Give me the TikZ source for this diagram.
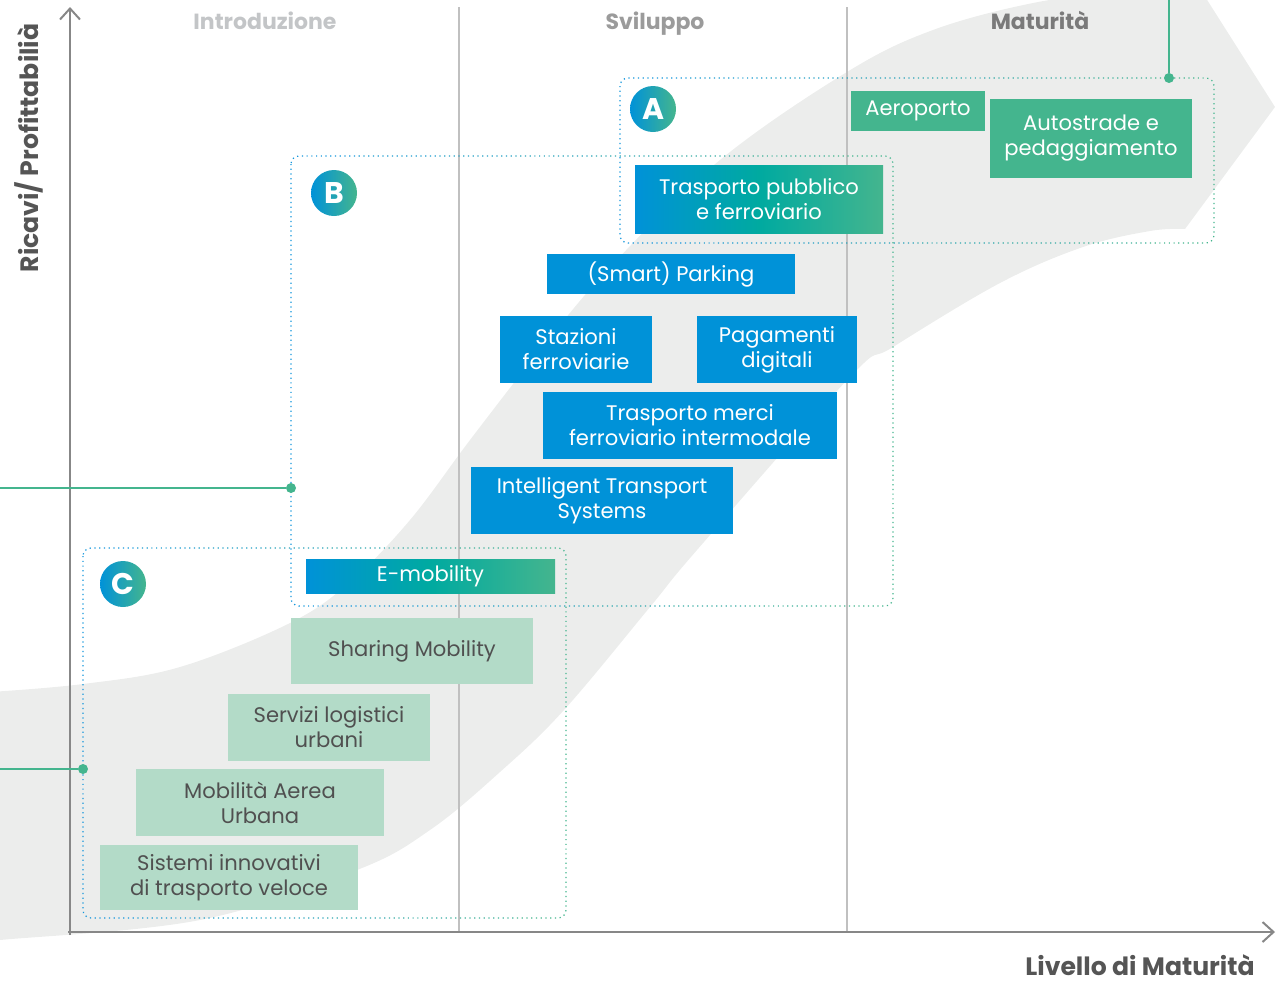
\documentclass[tikz,border=0pt]{standalone}
\usepackage{fontspec}
\setmainfont{Poppins}
\usetikzlibrary{arrows.meta, calc}

\definecolor{tileblue}{RGB}{0, 146, 216}
\definecolor{tileteal}{RGB}{0, 170, 160}
\definecolor{tilegreen}{RGB}{68, 181, 142}
\definecolor{tilemint}{RGB}{179, 219, 200}
\definecolor{bandgrey}{RGB}{236, 237, 236}
\definecolor{axisgrey}{RGB}{135, 135, 135}
\definecolor{sepgrey}{RGB}{192, 192, 192}
\definecolor{labeldark}{RGB}{85, 85, 85}
\definecolor{textdark}{RGB}{80, 80, 80}
\definecolor{dotblue}{RGB}{20, 150, 220}
\definecolor{introgrey}{RGB}{195, 197, 199}
\definecolor{svilgrey}{RGB}{155, 155, 155}
\definecolor{matgrey}{RGB}{122, 122, 122}

\tikzset{
  tile/.style={rectangle, inner sep=0pt, align=center, text=white, font=\fontsize{12}{14.2}\selectfont},
  bluetile/.style={tile, fill=tileblue},
  greentile/.style={tile, fill=tilegreen},
  fadetile/.style={tile, left color=tileblue, right color=tilegreen, middle color=tileteal},
  minttile/.style={tile, fill=tilemint, text=textdark},
  badge/.style={circle, inner sep=0pt, minimum size=9.2mm, left color=tileblue, right color=tilegreen, text=white, font=\fontsize{17}{17}\bfseries},
  phase/.style={anchor=base, font=\fontsize{12.5}{15}\bfseries},
  axislabel/.style={inner sep=0pt, font=\fontsize{14.3}{17}\bfseries, text=labeldark},
  axisline/.style={line width=0.4mm, draw=axisgrey, -{Straight Barb[length=2.2mm, width=4mm]}},
  divider/.style={line width=0.6pt, draw=sepgrey},
  zone/.style={dotted, line width=0.7pt, rounded corners=1.6mm},
  link/.style={line width=0.55mm, draw=tilegreen},
  linkdot/.style={circle, fill=tilegreen, inner sep=0pt, minimum size=2mm},
}

\begin{document}
\begin{tikzpicture}[x=0.2mm, y=-0.2mm]
  \useasboundingbox (0,0) rectangle (1285,984);

  % Grey growth band
  \begin{scope}
    \clip (0,0) rectangle (1285,984);
    \fill[bandgrey] plot[smooth, tension=0.6] coordinates {(-10,692) (83,684) (180,667) (290,623) (350,582) (410,520) (470,440) (540,350) (612,265) (720,160) (847,72) (933,30) (1033,3) (1120,-8) (1190,-12)}
      -- (1190,-27) -- (1275,107) -- (1185,229)
      -- plot[smooth, tension=0.6] coordinates {(1185,229) (1150,231) (1083,247) (1000,283) (893,347) (850,377) (697,550) (650,607) (564,710) (500,772) (430,830) (357,870) (200,920) (0,940) (-10,941)}
      -- cycle;
  \end{scope}

  % Phase dividers
  \draw[divider] (459,7) -- (459,932);
  \draw[divider] (847,7) -- (847,932);

  % Phase titles
  \node[phase, text=introgrey] (intro) at (265,29) {Introduzione};
  \node[phase, text=svilgrey] (svil) at (655,29) {Sviluppo};
  \node[phase, text=matgrey] (mat) at (1040,29) {Maturità};

  % Axes
  \coordinate (ybase) at (70,935);
  \coordinate (ytop) at (70,7);
  \coordinate (xbase) at (68,932);
  \coordinate (xtop) at (1275,932);
  \draw[axisline] (ybase) -- (ytop);
  \draw[axisline] (xbase) -- (xtop);
  \node[axislabel, rotate=90] (ylab) at (29,148) {Ricavi/ Profittabilià};
  \node[axislabel, anchor=base] (xlab) at (1140,975) {Livello di Maturità};

  % Zones, dotted with a blue-to-green fade
  \foreach \xa/\ya/\xb/\yb in {620/78/1214/243, 291/156/893/606, 83/548/566/918}{
    \foreach \k in {0,...,7}{
      \pgfmathtruncatemacro{\mix}{100-100*\k/7}
      \begin{scope}
        \clip ({\xa-10+(\xb-\xa+20)*\k/8}, \ya-10) rectangle ({\xa-10+(\xb-\xa+20)*(\k+1)/8}, \yb+10);
        \draw[zone, draw=dotblue!\mix!tilegreen] (\xa,\ya) rectangle (\xb,\yb);
      \end{scope}
    }
  }

  % Links into the zones
  \coordinate (linkA) at (1169,-5);
  \coordinate (linkB) at (-5,488);
  \coordinate (linkC) at (-5,769);
  \node[linkdot] (dotA) at (1169,78) {};
  \node[linkdot] (dotB) at (291,488) {};
  \node[linkdot] (dotC) at (83,769) {};
  \draw[link] (linkA) -- (dotA);
  \draw[link] (linkB) -- (dotB);
  \draw[link] (linkC) -- (dotC);

  % Zone badges
  \node[badge] (badgeA) at (653,109) {A};
  \node[badge] (badgeB) at (334,193) {B};
  \node[badge] (badgeC) at (123,584) {C};

  % Zone A
  \node[greentile, minimum width=26.8mm, minimum height=8mm] (aeroporto) at (918,111) {Aeroporto};
  \node[greentile, minimum width=40.4mm, minimum height=15.8mm] (autostrade) at (1091,138.5) {Autostrade e\\pedaggiamento};
  \node[fadetile, minimum width=49.6mm, minimum height=13.6mm] (pubblico) at (759,199) {Trasporto pubblico\\e ferroviario};

  % Zone B
  \node[bluetile, minimum width=49.6mm, minimum height=8mm] (parking) at (671,274) {(Smart) Parking};
  \node[bluetile, minimum width=30.4mm, minimum height=13.4mm] (stazioni) at (576,349.5) {Stazioni\\ferroviarie};
  \node[bluetile, minimum width=32mm, minimum height=13.4mm] (pagamenti) at (777,349.5) {Pagamenti\\digitali};
  \node[bluetile, minimum width=58.8mm, minimum height=13.4mm] (merci) at (690,425.5) {Trasporto merci\\ferroviario intermodale};
  \node[bluetile, minimum width=52.4mm, minimum height=13.4mm] (its) at (602,500.5) {Intelligent Transport\\Systems};
  \node[fadetile, minimum width=49.8mm, minimum height=6.8mm] (emob) at (430.5,576) {E-mobility};

  % Zone C
  \node[minttile, minimum width=48.4mm, minimum height=13.2mm] (sharing) at (412,651) {Sharing Mobility};
  \node[minttile, minimum width=40.4mm, minimum height=13.4mm] (logistica) at (329,727.5) {Servizi logistici\\urbani};
  \node[minttile, minimum width=49.6mm, minimum height=13.4mm] (aerea) at (260,802.5) {Mobilità Aerea\\Urbana};
  \node[minttile, minimum width=51.6mm, minimum height=13mm] (veloce) at (229,877.5) {Sistemi innovativi\\di trasporto veloce};
\end{tikzpicture}
\end{document}
